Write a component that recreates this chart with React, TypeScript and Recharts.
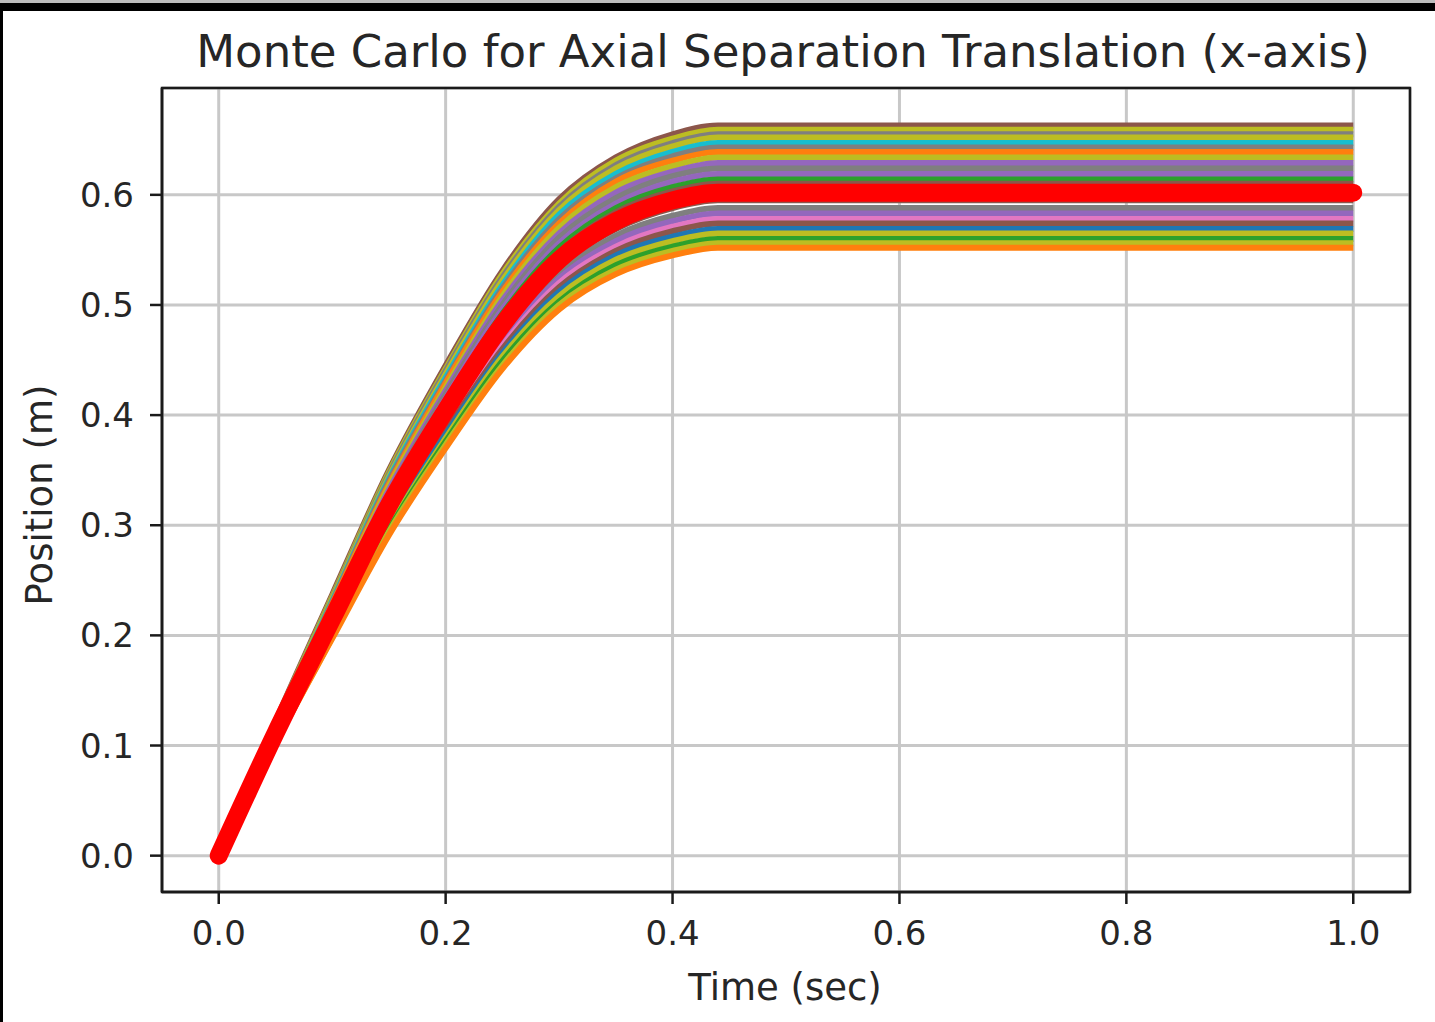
import React from "react";
import {
  LineChart,
  Line,
  XAxis,
  YAxis,
  CartesianGrid,
  ReferenceArea,
} from "recharts";

// sample times (sec)
const TIMES = [0, 0.05, 0.1, 0.15, 0.2, 0.25, 0.3, 0.35, 0.4, 0.44, 1.0];

// individual Monte Carlo runs, position (m) at each sample time
const RUNS: number[][] = [
  [0, 0.122, 0.237, 0.35, 0.445, 0.531, 0.596, 0.634, 0.655, 0.663, 0.663],
  [0, 0.121, 0.235, 0.348, 0.442, 0.528, 0.592, 0.631, 0.651, 0.659, 0.659],
  [0, 0.121, 0.234, 0.346, 0.44, 0.525, 0.589, 0.627, 0.647, 0.655, 0.655],
  [0, 0.12, 0.233, 0.344, 0.437, 0.522, 0.586, 0.624, 0.644, 0.652, 0.652],
  [0, 0.119, 0.231, 0.342, 0.434, 0.518, 0.582, 0.619, 0.639, 0.647, 0.647],
  [0, 0.118, 0.23, 0.34, 0.431, 0.515, 0.578, 0.615, 0.635, 0.643, 0.643],
  [0, 0.118, 0.228, 0.337, 0.429, 0.512, 0.574, 0.612, 0.631, 0.639, 0.639],
  [0, 0.117, 0.226, 0.335, 0.425, 0.508, 0.57, 0.607, 0.626, 0.634, 0.634],
  [0, 0.116, 0.225, 0.332, 0.422, 0.504, 0.565, 0.602, 0.621, 0.629, 0.629],
  [0, 0.115, 0.223, 0.329, 0.419, 0.5, 0.561, 0.597, 0.617, 0.624, 0.624],
  [0, 0.114, 0.221, 0.327, 0.415, 0.496, 0.556, 0.592, 0.612, 0.619, 0.619],
  [0, 0.113, 0.219, 0.324, 0.412, 0.492, 0.552, 0.588, 0.607, 0.614, 0.614],
  [0, 0.112, 0.218, 0.322, 0.409, 0.489, 0.548, 0.584, 0.603, 0.61, 0.61],
  [0, 0.112, 0.216, 0.32, 0.407, 0.485, 0.545, 0.58, 0.599, 0.606, 0.606],
  [0, 0.109, 0.212, 0.314, 0.399, 0.477, 0.535, 0.569, 0.588, 0.595, 0.595],
  [0, 0.108, 0.21, 0.31, 0.395, 0.471, 0.529, 0.563, 0.581, 0.588, 0.588],
  [0, 0.107, 0.208, 0.308, 0.391, 0.467, 0.524, 0.558, 0.576, 0.583, 0.583],
  [0, 0.106, 0.206, 0.305, 0.388, 0.463, 0.52, 0.553, 0.571, 0.578, 0.578],
  [0, 0.106, 0.205, 0.303, 0.385, 0.46, 0.516, 0.549, 0.567, 0.574, 0.574],
  [0, 0.105, 0.203, 0.3, 0.382, 0.456, 0.512, 0.545, 0.562, 0.569, 0.569],
  [0, 0.104, 0.202, 0.298, 0.379, 0.453, 0.508, 0.541, 0.558, 0.565, 0.565],
  [0, 0.103, 0.2, 0.296, 0.376, 0.449, 0.503, 0.536, 0.553, 0.56, 0.56],
  [0, 0.102, 0.198, 0.294, 0.373, 0.445, 0.5, 0.532, 0.549, 0.556, 0.556],
  [0, 0.102, 0.197, 0.291, 0.37, 0.442, 0.496, 0.528, 0.545, 0.552, 0.552],
];

const RUN_COLORS = [
  "#8c564b", "#bcbd22", "#7f7f7f", "#bcbd22", "#17becf", "#7f7f7f",
  "#ff7f0e", "#bcbd22", "#9467bd", "#7f7f7f", "#9467bd", "#2ca02c",
  "#8c564b", "#d62728", "#8c564b", "#7f7f7f", "#9467bd", "#e377c2",
  "#8c564b", "#1f77b4", "#bcbd22", "#2ca02c", "#bcbd22", "#ff7f0e",
];

// nominal trajectory drawn on top in bold red
const NOMINAL = [0, 0.111, 0.215, 0.318, 0.404, 0.482, 0.541, 0.576, 0.595, 0.602, 0.602];

const X_TICKS = [0, 0.2, 0.4, 0.6, 0.8, 1.0];
const Y_TICKS = [0, 0.1, 0.2, 0.3, 0.4, 0.5, 0.6];

const FONT = "'DejaVu Sans', sans-serif";
const INK = "#262626";

const rows = TIMES.map((t, i) => {
  const row: Record<string, number> = { t, nominal: NOMINAL[i] };
  RUNS.forEach((run, k) => {
    row[`run${k}`] = run[i];
  });
  return row;
});

const tickStyle = { fontSize: 34, fill: INK, fontFamily: FONT };

export default function App() {
  return (
    <div
      style={{
        position: "absolute",
        left: 0,
        top: 0,
        width: 1435,
        height: 1022,
        background: "#fff",
        fontFamily: FONT,
        overflow: "hidden",
      }}
    >
      {/* screenshot frame */}
      <div style={{ position: "absolute", left: 0, top: 0, width: 1435, height: 3, background: "#bdbdbd" }} />
      <div style={{ position: "absolute", left: 0, top: 3, width: 1435, height: 8, background: "#000" }} />
      <div style={{ position: "absolute", left: 0, top: 11, width: 3, height: 1011, background: "#000" }} />

      <div
        style={{
          position: "absolute",
          left: 0,
          width: 1566,
          top: 28,
          textAlign: "center",
          fontSize: 45,
          lineHeight: "48px",
          color: INK,
          whiteSpace: "nowrap",
        }}
      >
        Monte Carlo for Axial Separation Translation (x-axis)
      </div>

      <LineChart
        width={1435}
        height={1022}
        data={rows}
        margin={{ top: 88, right: 25, bottom: 0, left: 0 }}
      >
        <CartesianGrid stroke="#c8c8c8" strokeWidth={3} />
        <XAxis
          dataKey="t"
          type="number"
          domain={[-0.05, 1.05]}
          allowDataOverflow
          ticks={X_TICKS}
          tickFormatter={(v: number) => v.toFixed(1)}
          height={130}
          tick={tickStyle}
          tickSize={12}
          tickMargin={17}
          tickLine={{ stroke: "#1a1a1a", strokeWidth: 2.5 }}
          axisLine={{ stroke: "#1a1a1a", strokeWidth: 2.5 }}
        />
        <YAxis
          type="number"
          domain={[-0.033, 0.697]}
          allowDataOverflow
          ticks={Y_TICKS}
          tickFormatter={(v: number) => v.toFixed(1)}
          width={162}
          tick={tickStyle}
          tickSize={12}
          tickMargin={16}
          tickLine={{ stroke: "#1a1a1a", strokeWidth: 2.5 }}
          axisLine={{ stroke: "#1a1a1a", strokeWidth: 2.5 }}
        />
        {RUNS.map((_, k) => (
          <Line
            key={k}
            dataKey={`run${k}`}
            type="monotone"
            stroke={RUN_COLORS[k]}
            strokeWidth={6}
            dot={false}
            activeDot={false}
            isAnimationActive={false}
          />
        ))}
        <Line
          dataKey="nominal"
          type="monotone"
          stroke="#ff0000"
          strokeWidth={18}
          strokeLinecap="round"
          dot={false}
          activeDot={false}
          isAnimationActive={false}
        />
        <ReferenceArea
          x1={-0.05}
          x2={1.05}
          y1={-0.033}
          y2={0.697}
          fill="none"
          fillOpacity={0}
          stroke="#1a1a1a"
          strokeWidth={2.5}
          ifOverflow="visible"
        />
      </LineChart>

      <div
        style={{
          position: "absolute",
          left: 585,
          width: 400,
          top: 967,
          textAlign: "center",
          fontSize: 37,
          lineHeight: "42px",
          color: INK,
        }}
      >
        Time (sec)
      </div>
      <div
        style={{
          position: "absolute",
          left: 40 - 150,
          top: 495 - 21,
          width: 300,
          textAlign: "center",
          fontSize: 37,
          lineHeight: "42px",
          color: INK,
          transform: "rotate(-90deg)",
          transformOrigin: "150px 21px",
        }}
      >
        Position (m)
      </div>
    </div>
  );
}
